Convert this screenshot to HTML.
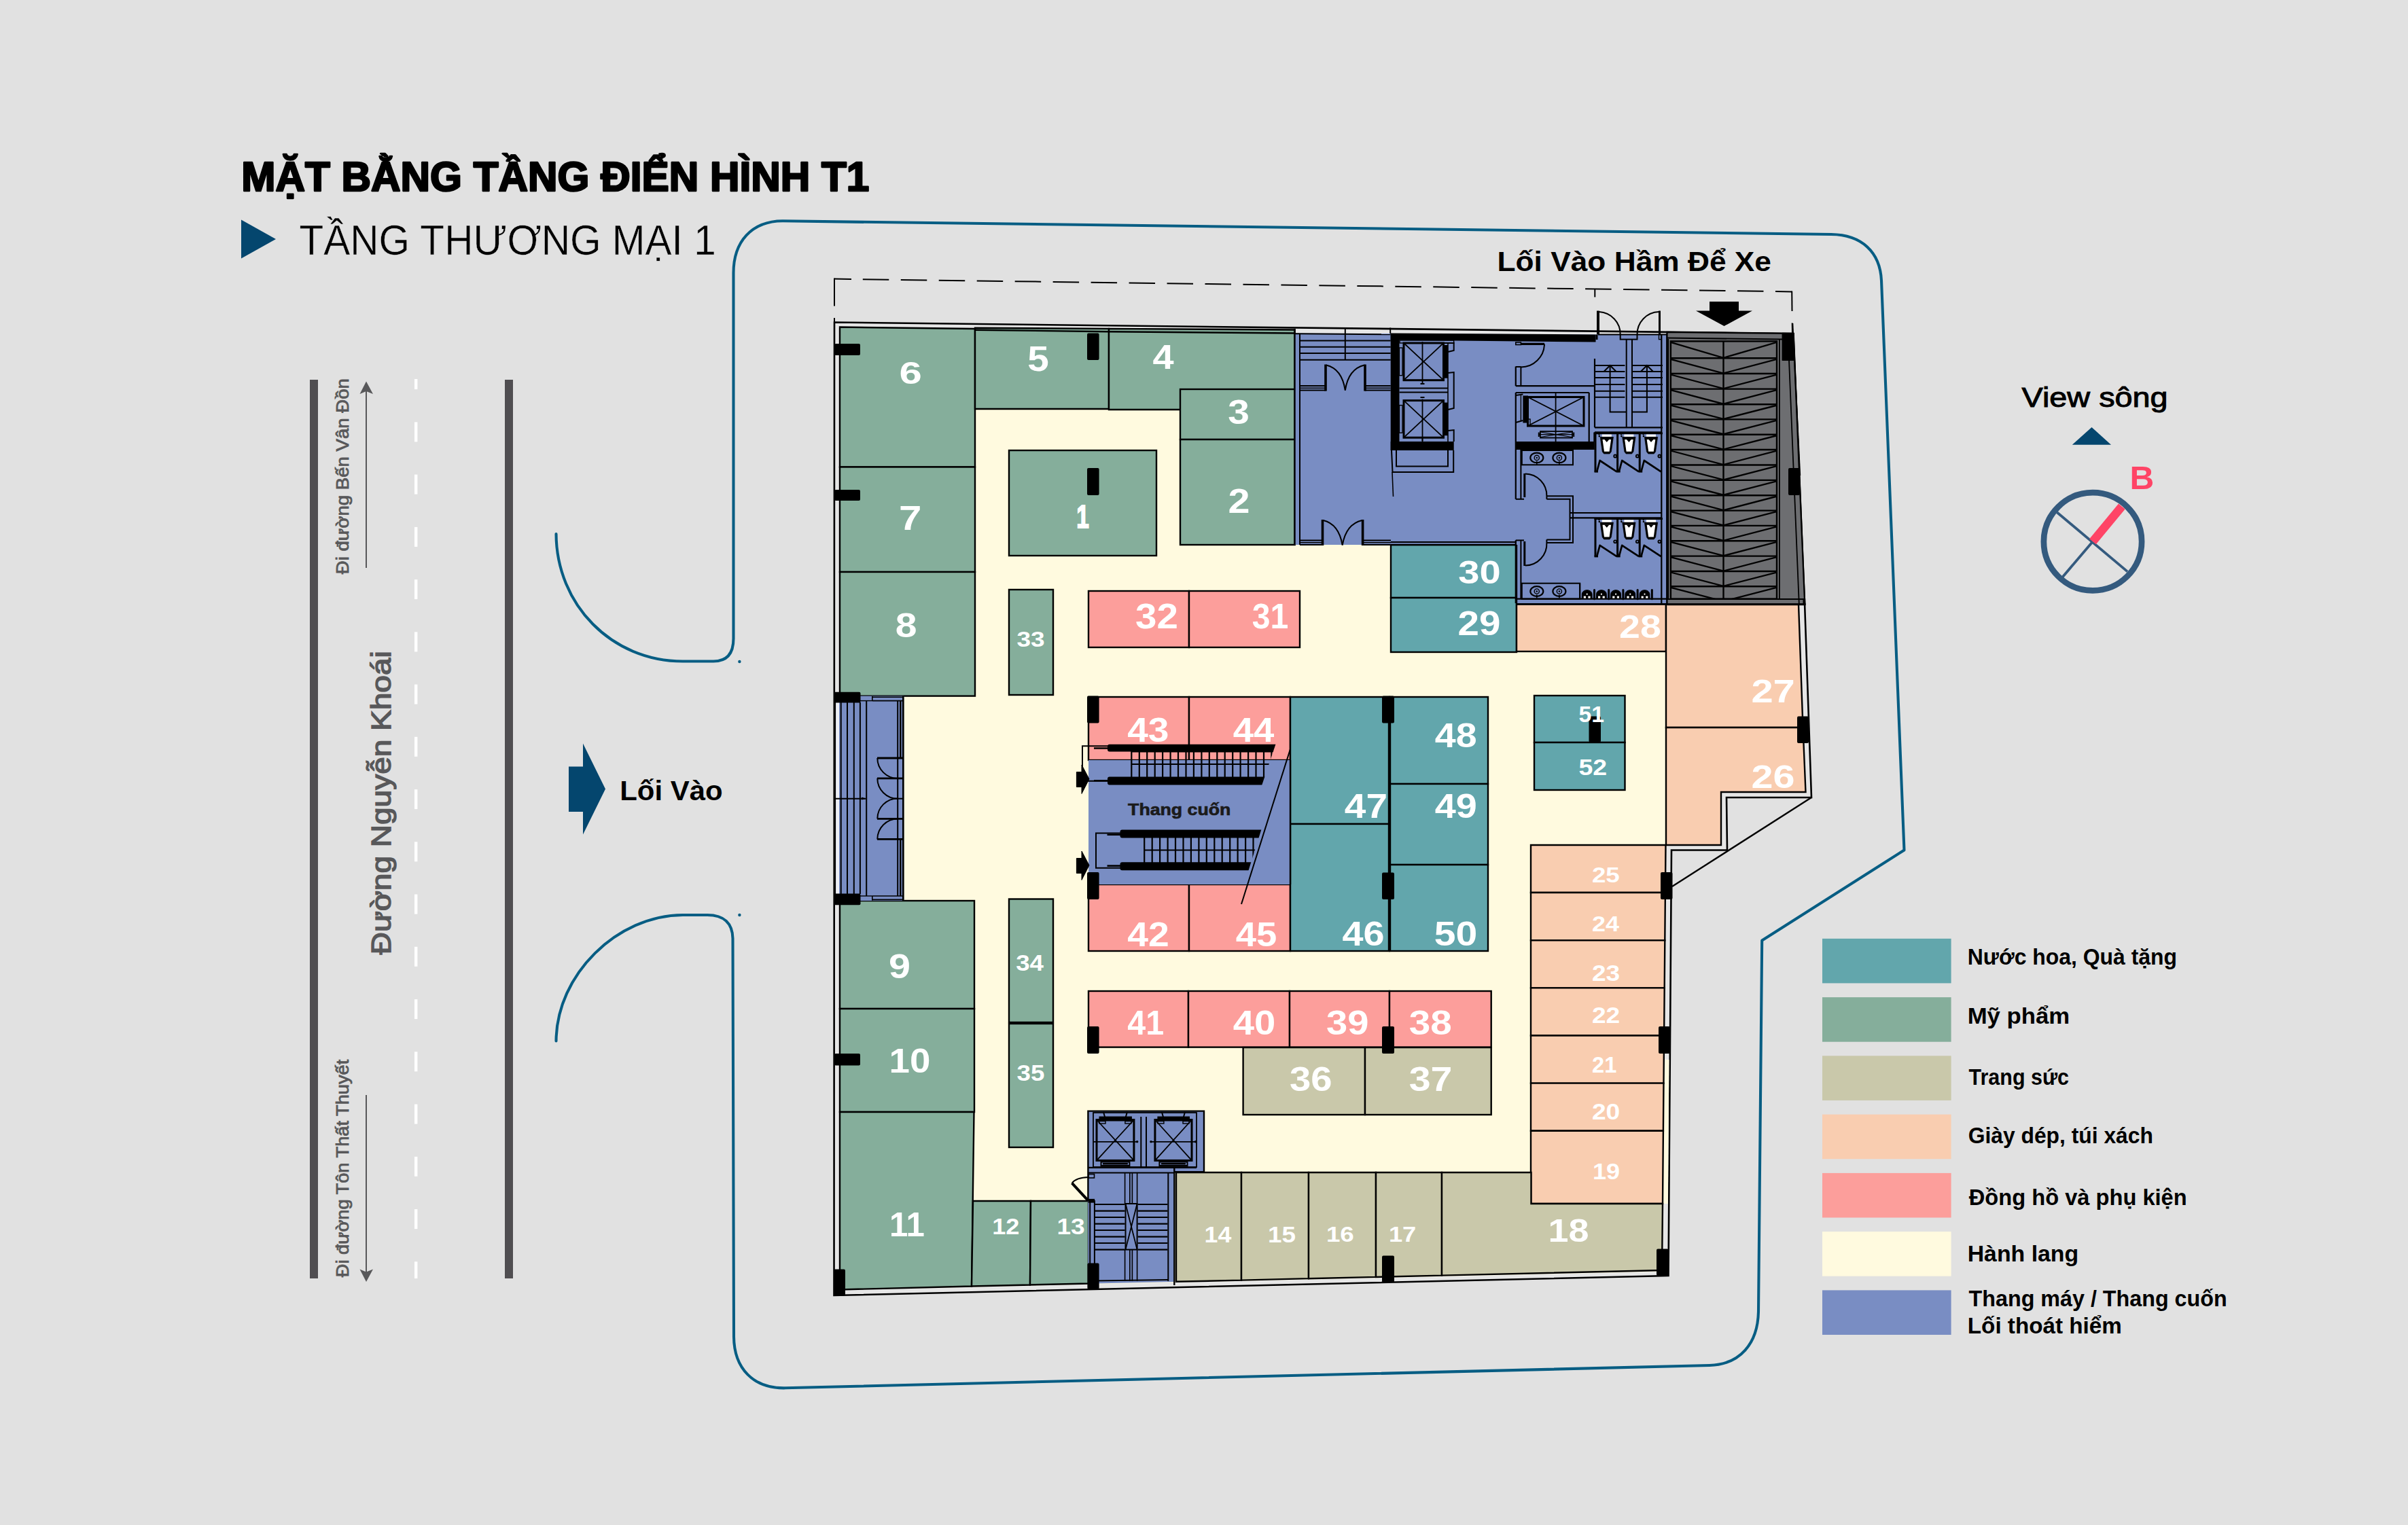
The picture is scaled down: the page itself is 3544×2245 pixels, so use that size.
<!DOCTYPE html>
<html lang="vi"><head><meta charset="utf-8"><title>Mặt bằng tầng điển hình T1</title>
<style>
html,body{margin:0;padding:0;background:#e1e1e1;}
body{width:3544px;height:2245px;overflow:hidden;}
svg{display:block;font-family:"Liberation Sans",sans-serif;}
</style></head><body>
<svg width="3544" height="2245" viewBox="0 0 3544 2245">
<rect x="0" y="0" width="3544" height="2245" fill="#e1e1e1"/>
<text x="355.2" y="281.3" font-size="60.2" font-weight="bold" fill="#000" textLength="924.2" lengthAdjust="spacingAndGlyphs" stroke="#000" stroke-width="2.6" stroke-linejoin="round">MẶT BẰNG TẦNG ĐIỂN HÌNH T1</text>
<text x="440.5" y="375.4" font-size="63.4" font-weight="normal" fill="#000" textLength="613.2" lengthAdjust="spacingAndGlyphs" stroke="#e1e1e1" stroke-width="0.5">TẦNG THƯƠNG MẠI 1</text>
<polygon points="355,323.5 406,352 355,380.5" fill="#04466e" stroke="none" stroke-width="0"/>
<rect x="456" y="559" width="12" height="1323" fill="#504e51" stroke="none" stroke-width="0"/>
<rect x="743" y="559" width="12" height="1323" fill="#504e51" stroke="none" stroke-width="0"/>
<rect x="610" y="558" width="4.4" height="15.1" fill="#fff" stroke="none" stroke-width="0"/>
<rect x="610" y="621.4" width="4.4" height="29" fill="#fff" stroke="none" stroke-width="0"/>
<rect x="610" y="698.6" width="4.4" height="29" fill="#fff" stroke="none" stroke-width="0"/>
<rect x="610" y="775.9" width="4.4" height="29" fill="#fff" stroke="none" stroke-width="0"/>
<rect x="610" y="853.1" width="4.4" height="29" fill="#fff" stroke="none" stroke-width="0"/>
<rect x="610" y="930.4" width="4.4" height="29" fill="#fff" stroke="none" stroke-width="0"/>
<rect x="610" y="1007.6" width="4.4" height="29" fill="#fff" stroke="none" stroke-width="0"/>
<rect x="610" y="1084.8" width="4.4" height="29" fill="#fff" stroke="none" stroke-width="0"/>
<rect x="610" y="1162.1" width="4.4" height="29" fill="#fff" stroke="none" stroke-width="0"/>
<rect x="610" y="1239.3" width="4.4" height="29" fill="#fff" stroke="none" stroke-width="0"/>
<rect x="610" y="1316.6" width="4.4" height="29" fill="#fff" stroke="none" stroke-width="0"/>
<rect x="610" y="1393.8" width="4.4" height="29" fill="#fff" stroke="none" stroke-width="0"/>
<rect x="610" y="1471.1" width="4.4" height="29" fill="#fff" stroke="none" stroke-width="0"/>
<rect x="610" y="1548.3" width="4.4" height="29" fill="#fff" stroke="none" stroke-width="0"/>
<rect x="610" y="1625.6" width="4.4" height="29" fill="#fff" stroke="none" stroke-width="0"/>
<rect x="610" y="1702.8" width="4.4" height="29" fill="#fff" stroke="none" stroke-width="0"/>
<rect x="610" y="1780.1" width="4.4" height="29" fill="#fff" stroke="none" stroke-width="0"/>
<rect x="610" y="1857.3" width="4.4" height="24.7" fill="#fff" stroke="none" stroke-width="0"/>
<g transform="translate(512.5,845) rotate(-90)">
<text x="-0.2" y="0" font-size="25" font-weight="normal" fill="#58585a" textLength="288" lengthAdjust="spacingAndGlyphs" stroke="#58585a" stroke-width="0.8">Đi đường Bến Vân Đồn</text>
</g>
<g transform="translate(575,1405) rotate(-90)">
<text x="-0.3" y="0" font-size="41" font-weight="normal" fill="#58585a" textLength="447" lengthAdjust="spacingAndGlyphs" stroke="#58585a" stroke-width="1.4">Đường Nguyễn Khoái</text>
</g>
<g transform="translate(512.5,1880) rotate(-90)">
<text x="-0.2" y="0" font-size="25" font-weight="normal" fill="#58585a" textLength="320.4" lengthAdjust="spacingAndGlyphs" stroke="#58585a" stroke-width="0.8">Đi đường Tôn Thất Thuyết</text>
</g>
<line x1="539" y1="836" x2="539" y2="575" stroke="#58585a" stroke-width="2"/>
<polygon points="539,561.5 549,580 539,576 529.5,580" fill="#58585a" stroke="none" stroke-width="0"/>
<line x1="539" y1="1612" x2="539" y2="1873" stroke="#58585a" stroke-width="2"/>
<polygon points="539,1887 549,1868.5 539,1872.5 529.5,1868.5" fill="#58585a" stroke="none" stroke-width="0"/>
<path d="M818.5,786 C819,890 900,973.5 1005,973.5 L1050,973.5 C1070,973.5 1079.5,962 1079.5,940 L1079.5,402 C1079.5,356 1106,325.5 1152,325.3 L2695,345 C2740,345.5 2767,371 2769,413 L2802.5,1251.5 L2593.2,1384.5 L2588,1931 C2587,1978 2561,2008.5 2516,2010 L1156,2043.3 C1109,2044.3 1080.5,2015 1080,1968 L1078.5,1381.5 C1078,1359.5 1066,1347 1041,1347 L1005,1347 C908,1347.5 819,1435 818.5,1532.5" fill="none" stroke="#075d83" stroke-width="4.1" stroke-linecap="round" stroke-linejoin="round"/>
<circle cx="1088.4" cy="974" r="2.2" fill="#075d83"/>
<circle cx="1088.4" cy="1347" r="2.2" fill="#075d83"/>
<polygon points="837,1128.5 858,1128.5 858,1094.5 891,1161.5 858,1228.5 858,1195 837,1195" fill="#04466e" stroke="none" stroke-width="0"/>
<text x="912.2" y="1177.5" font-size="41" font-weight="bold" fill="#000" textLength="151.5" lengthAdjust="spacingAndGlyphs">Lối Vào</text>
<text x="2203.5" y="398.8" font-size="41" font-weight="bold" fill="#000" textLength="403.5" lengthAdjust="spacingAndGlyphs">Lối Vào Hầm Để Xe</text>
<polygon points="2516,444 2559,444 2559,457.5 2579,457.5 2537.5,480 2496,457.5 2516,457.5" fill="#000" stroke="none" stroke-width="0"/>
<line x1="1228" y1="410.6" x2="1253" y2="410.9" stroke="#000" stroke-width="2"/>
<line x1="1269.8" y1="411.2" x2="2637.2" y2="429.4" stroke="#000" stroke-width="2" stroke-dasharray="38.5 17.47"/>
<line x1="1228" y1="409.6" x2="1228" y2="450.4" stroke="#000" stroke-width="2"/>
<line x1="1228" y1="468" x2="1228" y2="476" stroke="#000" stroke-width="2"/>
<line x1="2637.2" y1="428.4" x2="2637.5" y2="458" stroke="#000" stroke-width="2"/>
<line x1="2637.7" y1="475.6" x2="2638" y2="490.5" stroke="#000" stroke-width="2"/>
<line x1="2347.3" y1="425.7" x2="2347.3" y2="437.4" stroke="#000" stroke-width="2"/>
<polygon points="1228,474.5 2639.5,491 2656,887 2666,1174 2541,1174 2542,1251.5 2460,1251.5 2455.5,1878 1227.5,1907" fill="#e6e6e6" stroke="#000" stroke-width="2.6"/>
<polygon points="1236,600 2453,600 2453,1250 2452,1250 2447,1872 1236,1899" fill="#fffadf" stroke="none" stroke-width="0"/>
<polygon points="2449,1560 2456.4,1560 2454.8,1772 2446,1772" fill="#fffadf" stroke="none" stroke-width="0"/>
<polygon points="1236,481.5 1435,484 1435,687.5 1236,687.5" fill="#85ae9b" stroke="#000" stroke-width="2.4"/>
<rect x="1236" y="687.5" width="199" height="154.5" fill="#85ae9b" stroke="#000" stroke-width="2.4"/>
<rect x="1236" y="842" width="199" height="182.6" fill="#85ae9b" stroke="#000" stroke-width="2.4"/>
<polygon points="1435,482.7 1632,483.9 1632,602 1435,602" fill="#85ae9b" stroke="#000" stroke-width="2.4"/>
<polygon points="1632,483.9 1905.5,485.5 1905.5,603 1632,603" fill="#85ae9b" stroke="#000" stroke-width="2.4"/>
<line x1="1435" y1="485.8" x2="1632" y2="488.2" stroke="#000" stroke-width="2.4"/>
<line x1="1632" y1="488.2" x2="1905.5" y2="490.5" stroke="#000" stroke-width="2.4"/>
<rect x="1737" y="573" width="168.5" height="74" fill="#85ae9b" stroke="#000" stroke-width="2.4"/>
<rect x="1737" y="647" width="168.5" height="155" fill="#85ae9b" stroke="#000" stroke-width="2.4"/>
<rect x="1485" y="663" width="217" height="155" fill="#85ae9b" stroke="#000" stroke-width="2.4"/>
<rect x="1485" y="868" width="65" height="155" fill="#85ae9b" stroke="#000" stroke-width="2.4"/>
<rect x="1236" y="1326" width="198" height="159" fill="#85ae9b" stroke="#000" stroke-width="2.4"/>
<rect x="1236" y="1485" width="198" height="152" fill="#85ae9b" stroke="#000" stroke-width="2.4"/>
<polygon points="1236,1637 1433.5,1637 1430,1893.5 1236,1898.5" fill="#85ae9b" stroke="#000" stroke-width="2.4"/>
<polygon points="1432,1768 1517,1768 1516,1891.5 1430,1893.5" fill="#85ae9b" stroke="#000" stroke-width="2.4"/>
<polygon points="1517,1768 1602,1768 1602,1889.5 1516,1891.5" fill="#85ae9b" stroke="#000" stroke-width="2.4"/>
<rect x="1485" y="1323.5" width="65" height="181.5" fill="#85ae9b" stroke="#000" stroke-width="2.4"/>
<rect x="1485" y="1507" width="65" height="182" fill="#85ae9b" stroke="#000" stroke-width="2.4"/>
<rect x="1602" y="870" width="148" height="83" fill="#fc9e9b" stroke="#000" stroke-width="2.4"/>
<rect x="1750" y="870" width="163" height="83" fill="#fc9e9b" stroke="#000" stroke-width="2.4"/>
<rect x="1602" y="1026" width="148" height="93" fill="#fc9e9b" stroke="#000" stroke-width="2.4"/>
<rect x="1750" y="1026" width="149" height="93" fill="#fc9e9b" stroke="#000" stroke-width="2.4"/>
<rect x="1602" y="1302" width="148" height="98" fill="#fc9e9b" stroke="#000" stroke-width="2.4"/>
<rect x="1750" y="1302" width="149" height="98" fill="#fc9e9b" stroke="#000" stroke-width="2.4"/>
<rect x="1602" y="1459" width="147" height="82.6" fill="#fc9e9b" stroke="#000" stroke-width="2.4"/>
<rect x="1749" y="1459" width="149" height="82.6" fill="#fc9e9b" stroke="#000" stroke-width="2.4"/>
<rect x="1898" y="1459" width="147" height="82.6" fill="#fc9e9b" stroke="#000" stroke-width="2.4"/>
<rect x="2045" y="1459" width="149.7" height="82.6" fill="#fc9e9b" stroke="#000" stroke-width="2.4"/>
<rect x="2047" y="802" width="185" height="78" fill="#62a6ac" stroke="#000" stroke-width="2.4"/>
<rect x="2047" y="880" width="185" height="80" fill="#62a6ac" stroke="#000" stroke-width="2.4"/>
<rect x="1899" y="1026" width="146" height="187" fill="#62a6ac" stroke="#000" stroke-width="2.4"/>
<rect x="1899" y="1213" width="146" height="187" fill="#62a6ac" stroke="#000" stroke-width="2.4"/>
<rect x="2045" y="1026" width="145" height="128" fill="#62a6ac" stroke="#000" stroke-width="2.4"/>
<rect x="2045" y="1154" width="145" height="119" fill="#62a6ac" stroke="#000" stroke-width="2.4"/>
<rect x="2045" y="1273" width="145" height="127" fill="#62a6ac" stroke="#000" stroke-width="2.4"/>
<line x1="2045" y1="1026" x2="2045" y2="1400" stroke="#000" stroke-width="4.4"/>
<rect x="2258" y="1024" width="133.5" height="69" fill="#62a6ac" stroke="#000" stroke-width="2.4"/>
<rect x="2258" y="1093" width="133.5" height="70" fill="#62a6ac" stroke="#000" stroke-width="2.4"/>
<rect x="2232" y="889.4" width="220" height="69.6" fill="#f9cdb0" stroke="#000" stroke-width="2.4"/>
<polygon points="2452,889.4 2647,889.4 2653.5,1071 2452,1071" fill="#f9cdb0" stroke="#000" stroke-width="2.4"/>
<polygon points="2452,1071 2653.5,1071 2657.5,1166 2533,1166 2533,1244 2452,1244" fill="#f9cdb0" stroke="#000" stroke-width="2.4"/>
<polygon points="2253,1244 2451.5,1244 2450.9,1314 2253,1314" fill="#f9cdb0" stroke="#000" stroke-width="2.4"/>
<polygon points="2253,1314 2450.9,1314 2450.3,1384.4 2253,1384.4" fill="#f9cdb0" stroke="#000" stroke-width="2.4"/>
<polygon points="2253,1384.4 2450.3,1384.4 2449.7,1454.4 2253,1454.4" fill="#f9cdb0" stroke="#000" stroke-width="2.4"/>
<polygon points="2253,1454.4 2449.7,1454.4 2449.1,1524.5 2253,1524.5" fill="#f9cdb0" stroke="#000" stroke-width="2.4"/>
<polygon points="2253,1524.5 2449.1,1524.5 2448.5,1594.6 2253,1594.6" fill="#f9cdb0" stroke="#000" stroke-width="2.4"/>
<polygon points="2253,1594.6 2448.5,1594.6 2447.9,1664.7 2253,1664.7" fill="#f9cdb0" stroke="#000" stroke-width="2.4"/>
<polygon points="2253,1664.7 2447.9,1664.7 2447,1772 2253,1772" fill="#f9cdb0" stroke="#000" stroke-width="2.4"/>
<rect x="1829.6" y="1542" width="179.4" height="99" fill="#c9c8aa" stroke="#000" stroke-width="2.4"/>
<rect x="2009" y="1542" width="185.7" height="99" fill="#c9c8aa" stroke="#000" stroke-width="2.4"/>
<polygon points="1731,1726 1827,1726 1827,1884.6 1731,1886.8" fill="#c9c8aa" stroke="#000" stroke-width="2.4"/>
<polygon points="1827,1726 1926,1726 1926,1882.2 1827,1884.6" fill="#c9c8aa" stroke="#000" stroke-width="2.4"/>
<polygon points="1926,1726 2025,1726 2025,1879.9 1926,1882.2" fill="#c9c8aa" stroke="#000" stroke-width="2.4"/>
<polygon points="2025,1726 2122,1726 2122,1877.6 2025,1879.9" fill="#c9c8aa" stroke="#000" stroke-width="2.4"/>
<polygon points="2122,1726 2253.5,1726 2253.5,1772 2447,1772 2446,1870 2122,1877.6" fill="#c9c8aa" stroke="#000" stroke-width="2.4"/>
<line x1="2666" y1="1174" x2="2461" y2="1305" stroke="#000" stroke-width="2.4"/>
<polygon points="1905.5,490.5 2046.7,491 2348.5,492.5 2453.5,492.5 2453.5,889.4 2232,889.4 2232,802 1905.5,802" fill="#798dc3" stroke="none" stroke-width="0"/>
<line x1="1905.5" y1="484" x2="1905.5" y2="803" stroke="#000" stroke-width="2.4"/>
<line x1="1913" y1="491" x2="1913" y2="802" stroke="#000" stroke-width="2"/>
<line x1="1906" y1="491.3" x2="2046.7" y2="492.3" stroke="#000" stroke-width="2"/>
<line x1="1913" y1="501.4" x2="2046.7" y2="501.4" stroke="#000" stroke-width="2"/>
<line x1="1913" y1="510.7" x2="2046.7" y2="510.7" stroke="#000" stroke-width="2"/>
<line x1="1913" y1="520" x2="2046.7" y2="520" stroke="#000" stroke-width="2"/>
<line x1="1913" y1="529.8" x2="2046.7" y2="529.8" stroke="#000" stroke-width="2"/>
<line x1="1979.8" y1="484" x2="1979.8" y2="529" stroke="#000" stroke-width="2"/>
<line x1="2046.2" y1="482.5" x2="2046.2" y2="491" stroke="#000" stroke-width="2"/>
<line x1="1913" y1="568" x2="1951" y2="568" stroke="#000" stroke-width="2"/>
<line x1="1913" y1="571.3" x2="1951" y2="571.3" stroke="#000" stroke-width="1.4"/>
<line x1="1913" y1="574.6" x2="1951" y2="574.6" stroke="#000" stroke-width="2"/>
<line x1="2009" y1="568" x2="2046.7" y2="568" stroke="#000" stroke-width="2"/>
<line x1="2009" y1="571.3" x2="2046.7" y2="571.3" stroke="#000" stroke-width="1.4"/>
<line x1="2009" y1="574.6" x2="2046.7" y2="574.6" stroke="#000" stroke-width="2"/>
<line x1="1951" y1="536.5" x2="1951" y2="575.6" stroke="#000" stroke-width="3.6"/>
<line x1="2009" y1="536.5" x2="2009" y2="575.6" stroke="#000" stroke-width="3.6"/>
<path d="M1952,537.5 Q1975,543 1979.8,574.6" fill="none" stroke="#000" stroke-width="2"/>
<path d="M2008,537.5 Q1984.6,543 1979.8,574.6" fill="none" stroke="#000" stroke-width="2"/>
<line x1="1913" y1="795.5" x2="1946.5" y2="795.5" stroke="#000" stroke-width="2"/>
<line x1="1913" y1="798.7" x2="1946.5" y2="798.7" stroke="#000" stroke-width="1.4"/>
<line x1="1913" y1="802" x2="1946.5" y2="802" stroke="#000" stroke-width="2"/>
<line x1="2005.6" y1="795.5" x2="2047" y2="795.5" stroke="#000" stroke-width="2"/>
<line x1="2005.6" y1="798.7" x2="2047" y2="798.7" stroke="#000" stroke-width="1.4"/>
<line x1="2005.6" y1="802" x2="2047" y2="802" stroke="#000" stroke-width="2"/>
<line x1="1946.5" y1="765" x2="1946.5" y2="803" stroke="#000" stroke-width="3.6"/>
<line x1="2005.6" y1="765" x2="2005.6" y2="803" stroke="#000" stroke-width="3.6"/>
<path d="M1947.5,766 Q1970.5,771.5 1975.7,802.5" fill="none" stroke="#000" stroke-width="2"/>
<path d="M2004.6,766 Q1981,771.5 1975.7,802.5" fill="none" stroke="#000" stroke-width="2"/>
<line x1="2047" y1="798" x2="2232" y2="798" stroke="#000" stroke-width="2"/>
<line x1="2047" y1="802" x2="2232" y2="802" stroke="#000" stroke-width="2.4"/>
<polygon points="2046.7,490.5 2348.5,492.5 2348.5,503.5 2046.7,500.6" fill="#000" stroke="none" stroke-width="0"/>
<rect x="2046.7" y="491" width="12.8" height="172" fill="#000" stroke="none" stroke-width="0"/>
<rect x="2046.7" y="650" width="93" height="13" fill="#000" stroke="none" stroke-width="0"/>
<rect x="2230.6" y="650" width="116.2" height="12" fill="#000" stroke="none" stroke-width="0"/>
<rect x="2348.5" y="492.5" width="3" height="7.5" fill="#000" stroke="none" stroke-width="0"/>
<rect x="2066" y="505" width="58.5" height="54.7" fill="none" stroke="#000" stroke-width="3"/>
<line x1="2066" y1="505" x2="2124.5" y2="559.7" stroke="#000" stroke-width="1.8"/>
<line x1="2066" y1="559.7" x2="2124.5" y2="505" stroke="#000" stroke-width="1.8"/>
<line x1="2093.5" y1="503" x2="2093.5" y2="564.7" stroke="#000" stroke-width="1.8"/>
<rect x="2124" y="508" width="7" height="48.7" fill="#000" stroke="none" stroke-width="0"/>
<rect x="2059.5" y="512" width="4.5" height="40.7" fill="none" stroke="#000" stroke-width="1.4"/>
<rect x="2066" y="589.6" width="58.5" height="54.6" fill="none" stroke="#000" stroke-width="3"/>
<line x1="2066" y1="589.6" x2="2124.5" y2="644.2" stroke="#000" stroke-width="1.8"/>
<line x1="2066" y1="644.2" x2="2124.5" y2="589.6" stroke="#000" stroke-width="1.8"/>
<line x1="2093.5" y1="587.6" x2="2093.5" y2="649.2" stroke="#000" stroke-width="1.8"/>
<rect x="2124" y="592.6" width="7" height="48.6" fill="#000" stroke="none" stroke-width="0"/>
<rect x="2059.5" y="596.6" width="4.5" height="40.6" fill="none" stroke="#000" stroke-width="1.4"/>
<line x1="2090.5" y1="565" x2="2096.5" y2="565" stroke="#000" stroke-width="2"/>
<line x1="2090.5" y1="585" x2="2096.5" y2="585" stroke="#000" stroke-width="2"/>
<line x1="2093.5" y1="644" x2="2093.5" y2="650" stroke="#000" stroke-width="1.8"/>
<line x1="2059.5" y1="571.5" x2="2131" y2="571.5" stroke="#000" stroke-width="2"/>
<line x1="2059.5" y1="577.5" x2="2131" y2="577.5" stroke="#000" stroke-width="2"/>
<rect x="2060" y="501" width="79.7" height="4" fill="none" stroke="#000" stroke-width="1.4"/>
<polyline points="2125,505 2139.7,505 2139.7,516 2131,518" fill="none" stroke="#000" stroke-width="2"/>
<polyline points="2131,549 2139.7,548 2139.7,601 2131,603" fill="none" stroke="#000" stroke-width="2"/>
<line x1="2131" y1="505" x2="2131" y2="650" stroke="#000" stroke-width="1.6"/>
<polyline points="2131,634 2139.7,633 2139.7,650" fill="none" stroke="#000" stroke-width="2"/>
<polyline points="2048,663 2049.5,695 2139.2,695 2139.2,663" fill="none" stroke="#000" stroke-width="2"/>
<polyline points="2055,663 2055,686.5 2131,686.5 2131,663" fill="none" stroke="#000" stroke-width="2"/>
<line x1="2049" y1="695" x2="2050.5" y2="731" stroke="#000" stroke-width="1.6"/>
<line x1="2230.8" y1="539.5" x2="2230.8" y2="568.2" stroke="#000" stroke-width="2.2"/>
<line x1="2230.8" y1="578" x2="2230.8" y2="734.8" stroke="#000" stroke-width="2.2"/>
<line x1="2230.8" y1="795.4" x2="2230.8" y2="888" stroke="#000" stroke-width="2.2"/>
<line x1="2238.4" y1="539.5" x2="2238.4" y2="568.2" stroke="#000" stroke-width="2"/>
<rect x="2230.8" y="504" width="7.6" height="3.5" fill="none" stroke="#000" stroke-width="1.6"/>
<line x1="2238.4" y1="506.4" x2="2273" y2="506.4" stroke="#000" stroke-width="3.2"/>
<path d="M2273,506.4 A34.7,34.7 0 0 1 2238.4,540.5" fill="none" stroke="#000" stroke-width="2"/>
<line x1="2230.8" y1="540" x2="2238.4" y2="540" stroke="#000" stroke-width="2"/>
<line x1="2230.8" y1="568.2" x2="2347" y2="568.2" stroke="#000" stroke-width="2.2"/>
<line x1="2230.8" y1="578" x2="2338.7" y2="578" stroke="#000" stroke-width="2.2"/>
<line x1="2338.7" y1="578" x2="2338.7" y2="650" stroke="#000" stroke-width="2.2"/>
<line x1="2289.6" y1="578" x2="2289.6" y2="650" stroke="#000" stroke-width="1.8"/>
<rect x="2248.5" y="584.5" width="82.5" height="42.5" fill="none" stroke="#000" stroke-width="3"/>
<line x1="2248.5" y1="584.5" x2="2331" y2="627" stroke="#000" stroke-width="1.8"/>
<line x1="2248.5" y1="627" x2="2331" y2="584.5" stroke="#000" stroke-width="1.8"/>
<rect x="2241.4" y="582.5" width="7.6" height="40" fill="#000" stroke="none" stroke-width="0"/>
<polyline points="2230.8,582 2241.4,580.5" fill="none" stroke="#000" stroke-width="2"/>
<polyline points="2230.8,622 2241.4,619" fill="none" stroke="#000" stroke-width="2"/>
<polyline points="2238.4,582 2238.4,620" fill="none" stroke="#000" stroke-width="1.4"/>
<rect x="2248.5" y="617" width="3.5" height="10" fill="none" stroke="#000" stroke-width="1.4"/>
<rect x="2267" y="635" width="47" height="9.5" fill="none" stroke="#000" stroke-width="1.8"/>
<line x1="2267" y1="636" x2="2314" y2="643.5" stroke="#000" stroke-width="1.2"/>
<line x1="2267" y1="643.5" x2="2314" y2="636" stroke="#000" stroke-width="1.2"/>
<line x1="2264.5" y1="639.7" x2="2316.5" y2="639.7" stroke="#000" stroke-width="1.2"/>
<line x1="2264.8" y1="636.5" x2="2264.8" y2="643" stroke="#000" stroke-width="2"/>
<line x1="2316.2" y1="636.5" x2="2316.2" y2="643" stroke="#000" stroke-width="2"/>
<line x1="2352" y1="457.5" x2="2352" y2="492.5" stroke="#000" stroke-width="4"/>
<path d="M2353.5,459 A33,33 0 0 1 2384.7,492.5" fill="none" stroke="#000" stroke-width="2"/>
<line x1="2442.5" y1="457.5" x2="2442.5" y2="492.5" stroke="#000" stroke-width="3"/>
<path d="M2441.5,459 A33,33 0 0 0 2409.5,492.5" fill="none" stroke="#000" stroke-width="2"/>
<rect x="2384.7" y="492.5" width="24.8" height="7.1" fill="none" stroke="#000" stroke-width="2"/>
<line x1="2352" y1="492.5" x2="2384.7" y2="492.5" stroke="#000" stroke-width="2"/>
<line x1="2409.5" y1="492.5" x2="2453.5" y2="492.5" stroke="#000" stroke-width="2"/>
<rect x="2441.5" y="492.5" width="3.5" height="7.1" fill="none" stroke="#000" stroke-width="1.4"/>
<line x1="2393.7" y1="499.6" x2="2393.7" y2="629.3" stroke="#000" stroke-width="2"/>
<line x1="2402" y1="499.6" x2="2402" y2="629.3" stroke="#000" stroke-width="2"/>
<line x1="2445.3" y1="492.5" x2="2445.3" y2="888" stroke="#000" stroke-width="2.2"/>
<line x1="2453.5" y1="491" x2="2453.5" y2="888" stroke="#000" stroke-width="2.4"/>
<line x1="2347" y1="528" x2="2347" y2="629.3" stroke="#000" stroke-width="2.2"/>
<line x1="2347" y1="538" x2="2391.4" y2="538" stroke="#000" stroke-width="2"/>
<line x1="2402" y1="538" x2="2447" y2="538" stroke="#000" stroke-width="2"/>
<line x1="2347" y1="547" x2="2391.4" y2="547" stroke="#000" stroke-width="2"/>
<line x1="2402" y1="547" x2="2447" y2="547" stroke="#000" stroke-width="2"/>
<line x1="2347" y1="556" x2="2391.4" y2="556" stroke="#000" stroke-width="2"/>
<line x1="2402" y1="556" x2="2447" y2="556" stroke="#000" stroke-width="2"/>
<line x1="2347" y1="566" x2="2391.4" y2="566" stroke="#000" stroke-width="2"/>
<line x1="2402" y1="566" x2="2447" y2="566" stroke="#000" stroke-width="2"/>
<line x1="2347" y1="575.7" x2="2391.4" y2="575.7" stroke="#000" stroke-width="2"/>
<line x1="2402" y1="575.7" x2="2447" y2="575.7" stroke="#000" stroke-width="2"/>
<line x1="2347" y1="584.8" x2="2391.4" y2="584.8" stroke="#000" stroke-width="2"/>
<line x1="2402" y1="584.8" x2="2447" y2="584.8" stroke="#000" stroke-width="2"/>
<polyline points="2369.6,539 2369.6,606.6 2393.7,606.6" fill="none" stroke="#000" stroke-width="2"/>
<polyline points="2360.5,547 2369.6,538 2378.6,547" fill="none" stroke="#000" stroke-width="2"/>
<polyline points="2402,606.6 2423.9,606.6 2423.9,539" fill="none" stroke="#000" stroke-width="2"/>
<polyline points="2414.8,547 2423.9,538 2433,547" fill="none" stroke="#000" stroke-width="2"/>
<line x1="2347" y1="629.3" x2="2447" y2="629.3" stroke="#000" stroke-width="2.2"/>
<line x1="2347" y1="636.3" x2="2445.3" y2="636.3" stroke="#000" stroke-width="2"/>
<line x1="2346.5" y1="637.8" x2="2447" y2="637.8" stroke="#000" stroke-width="2.8"/>
<line x1="2348" y1="636.5" x2="2348" y2="694.4" stroke="#000" stroke-width="3"/>
<line x1="2346.5" y1="694.2" x2="2352" y2="694.2" stroke="#000" stroke-width="2.8"/>
<polyline points="2350.2,694.4 2354.6,678 2379.4,694.4" fill="none" stroke="#000" stroke-width="2.7" stroke-linejoin="round"/>
<rect x="2357.8" y="639.6" width="14" height="3.5" fill="#fff" stroke="none" stroke-width="0"/>
<polygon points="2355.1,643.3 2374.5,643.3 2371.4,665 2369,668.1 2360.6,668.1 2358.2,665" fill="#000" stroke="#000" stroke-width="0.6" stroke-linejoin="round"/>
<polygon points="2358.5,646.9 2371.1,646.9 2368.6,664.7 2361,664.7" fill="#fff" stroke="none" stroke-width="0"/>
<polygon points="2361.2,646.7 2368.4,646.7 2364.8,650.9" fill="#000" stroke="none" stroke-width="0"/>
<circle cx="2377.2" cy="671.5" r="2" fill="none" stroke="#000" stroke-width="1.8"/>
<circle cx="2353.5" cy="638.9" r="1.3" fill="#000"/>
<circle cx="2353.8" cy="642.1" r="1.3" fill="#000"/>
<line x1="2380.6" y1="636.5" x2="2380.6" y2="694.4" stroke="#000" stroke-width="3"/>
<line x1="2379.1" y1="694.2" x2="2384.6" y2="694.2" stroke="#000" stroke-width="2.8"/>
<polyline points="2382.8,694.4 2387.2,678 2412,694.4" fill="none" stroke="#000" stroke-width="2.7" stroke-linejoin="round"/>
<rect x="2390.4" y="639.6" width="14" height="3.5" fill="#fff" stroke="none" stroke-width="0"/>
<polygon points="2387.7,643.3 2407.1,643.3 2404,665 2401.6,668.1 2393.2,668.1 2390.8,665" fill="#000" stroke="#000" stroke-width="0.6" stroke-linejoin="round"/>
<polygon points="2391.1,646.9 2403.7,646.9 2401.2,664.7 2393.6,664.7" fill="#fff" stroke="none" stroke-width="0"/>
<polygon points="2393.8,646.7 2401,646.7 2397.4,650.9" fill="#000" stroke="none" stroke-width="0"/>
<circle cx="2409.8" cy="671.5" r="2" fill="none" stroke="#000" stroke-width="1.8"/>
<circle cx="2386.1" cy="638.9" r="1.3" fill="#000"/>
<circle cx="2386.4" cy="642.1" r="1.3" fill="#000"/>
<line x1="2413.2" y1="636.5" x2="2413.2" y2="694.4" stroke="#000" stroke-width="3"/>
<line x1="2411.7" y1="694.2" x2="2417.2" y2="694.2" stroke="#000" stroke-width="2.8"/>
<polyline points="2415.4,694.4 2419.8,678 2444.6,694.4" fill="none" stroke="#000" stroke-width="2.7" stroke-linejoin="round"/>
<rect x="2423" y="639.6" width="14" height="3.5" fill="#fff" stroke="none" stroke-width="0"/>
<polygon points="2420.3,643.3 2439.7,643.3 2436.6,665 2434.2,668.1 2425.8,668.1 2423.4,665" fill="#000" stroke="#000" stroke-width="0.6" stroke-linejoin="round"/>
<polygon points="2423.7,646.9 2436.3,646.9 2433.8,664.7 2426.2,664.7" fill="#fff" stroke="none" stroke-width="0"/>
<polygon points="2426.4,646.7 2433.6,646.7 2430,650.9" fill="#000" stroke="none" stroke-width="0"/>
<circle cx="2442.4" cy="671.5" r="2" fill="none" stroke="#000" stroke-width="1.8"/>
<circle cx="2418.7" cy="638.9" r="1.3" fill="#000"/>
<circle cx="2419" cy="642.1" r="1.3" fill="#000"/>
<line x1="2346.5" y1="763.6" x2="2447" y2="763.6" stroke="#000" stroke-width="2.8"/>
<line x1="2348" y1="762.3" x2="2348" y2="819.2" stroke="#000" stroke-width="3"/>
<line x1="2346.5" y1="819" x2="2352" y2="819" stroke="#000" stroke-width="2.8"/>
<polyline points="2350.2,819.2 2354.6,802.8 2379.4,819.2" fill="none" stroke="#000" stroke-width="2.7" stroke-linejoin="round"/>
<rect x="2357.8" y="765.4" width="14" height="3.5" fill="#fff" stroke="none" stroke-width="0"/>
<polygon points="2355.1,769.1 2374.5,769.1 2371.4,790.8 2369,793.9 2360.6,793.9 2358.2,790.8" fill="#000" stroke="#000" stroke-width="0.6" stroke-linejoin="round"/>
<polygon points="2358.5,772.7 2371.1,772.7 2368.6,790.5 2361,790.5" fill="#fff" stroke="none" stroke-width="0"/>
<polygon points="2361.2,772.5 2368.4,772.5 2364.8,776.7" fill="#000" stroke="none" stroke-width="0"/>
<circle cx="2377.2" cy="797.3" r="2" fill="none" stroke="#000" stroke-width="1.8"/>
<circle cx="2353.5" cy="764.7" r="1.3" fill="#000"/>
<circle cx="2353.8" cy="767.9" r="1.3" fill="#000"/>
<line x1="2380.6" y1="762.3" x2="2380.6" y2="819.2" stroke="#000" stroke-width="3"/>
<line x1="2379.1" y1="819" x2="2384.6" y2="819" stroke="#000" stroke-width="2.8"/>
<polyline points="2382.8,819.2 2387.2,802.8 2412,819.2" fill="none" stroke="#000" stroke-width="2.7" stroke-linejoin="round"/>
<rect x="2390.4" y="765.4" width="14" height="3.5" fill="#fff" stroke="none" stroke-width="0"/>
<polygon points="2387.7,769.1 2407.1,769.1 2404,790.8 2401.6,793.9 2393.2,793.9 2390.8,790.8" fill="#000" stroke="#000" stroke-width="0.6" stroke-linejoin="round"/>
<polygon points="2391.1,772.7 2403.7,772.7 2401.2,790.5 2393.6,790.5" fill="#fff" stroke="none" stroke-width="0"/>
<polygon points="2393.8,772.5 2401,772.5 2397.4,776.7" fill="#000" stroke="none" stroke-width="0"/>
<circle cx="2409.8" cy="797.3" r="2" fill="none" stroke="#000" stroke-width="1.8"/>
<circle cx="2386.1" cy="764.7" r="1.3" fill="#000"/>
<circle cx="2386.4" cy="767.9" r="1.3" fill="#000"/>
<line x1="2413.2" y1="762.3" x2="2413.2" y2="819.2" stroke="#000" stroke-width="3"/>
<line x1="2411.7" y1="819" x2="2417.2" y2="819" stroke="#000" stroke-width="2.8"/>
<polyline points="2415.4,819.2 2419.8,802.8 2444.6,819.2" fill="none" stroke="#000" stroke-width="2.7" stroke-linejoin="round"/>
<rect x="2423" y="765.4" width="14" height="3.5" fill="#fff" stroke="none" stroke-width="0"/>
<polygon points="2420.3,769.1 2439.7,769.1 2436.6,790.8 2434.2,793.9 2425.8,793.9 2423.4,790.8" fill="#000" stroke="#000" stroke-width="0.6" stroke-linejoin="round"/>
<polygon points="2423.7,772.7 2436.3,772.7 2433.8,790.5 2426.2,790.5" fill="#fff" stroke="none" stroke-width="0"/>
<polygon points="2426.4,772.5 2433.6,772.5 2430,776.7" fill="#000" stroke="none" stroke-width="0"/>
<circle cx="2442.4" cy="797.3" r="2" fill="none" stroke="#000" stroke-width="1.8"/>
<circle cx="2418.7" cy="764.7" r="1.3" fill="#000"/>
<circle cx="2419" cy="767.9" r="1.3" fill="#000"/>
<line x1="2346.3" y1="636.5" x2="2346.3" y2="650" stroke="#000" stroke-width="2"/>
<rect x="2239.8" y="663" width="75.2" height="21.3" fill="none" stroke="#000" stroke-width="2"/>
<ellipse cx="2261.8" cy="673.9" rx="9.5" ry="7.3" fill="none" stroke="#000" stroke-width="2.2"/>
<circle cx="2261.8" cy="673.9" r="3.6" fill="none" stroke="#000" stroke-width="1.4"/>
<circle cx="2261.8" cy="673.9" r="1.2" fill="#000"/>
<line x1="2261.8" y1="678.9" x2="2261.8" y2="683.9" stroke="#000" stroke-width="1.6"/>
<ellipse cx="2294.9" cy="673.9" rx="9.5" ry="7.3" fill="none" stroke="#000" stroke-width="2.2"/>
<circle cx="2294.9" cy="673.9" r="3.6" fill="none" stroke="#000" stroke-width="1.4"/>
<circle cx="2294.9" cy="673.9" r="1.2" fill="#000"/>
<line x1="2294.9" y1="678.9" x2="2294.9" y2="683.9" stroke="#000" stroke-width="1.6"/>
<rect x="2239.8" y="858.7" width="85.4" height="23" fill="none" stroke="#000" stroke-width="2"/>
<ellipse cx="2261.8" cy="870.5" rx="9.5" ry="7.3" fill="none" stroke="#000" stroke-width="2.2"/>
<circle cx="2261.8" cy="870.5" r="3.6" fill="none" stroke="#000" stroke-width="1.4"/>
<circle cx="2261.8" cy="870.5" r="1.2" fill="#000"/>
<line x1="2261.8" y1="875.5" x2="2261.8" y2="880.5" stroke="#000" stroke-width="1.6"/>
<ellipse cx="2294.9" cy="870.5" rx="9.5" ry="7.3" fill="none" stroke="#000" stroke-width="2.2"/>
<circle cx="2294.9" cy="870.5" r="3.6" fill="none" stroke="#000" stroke-width="1.4"/>
<circle cx="2294.9" cy="870.5" r="1.2" fill="#000"/>
<line x1="2294.9" y1="875.5" x2="2294.9" y2="880.5" stroke="#000" stroke-width="1.6"/>
<line x1="2238.4" y1="662" x2="2238.4" y2="734.8" stroke="#000" stroke-width="2"/>
<polyline points="2230.8,734.8 2243,734.8" fill="none" stroke="#000" stroke-width="2"/>
<line x1="2243.8" y1="697" x2="2243.8" y2="732" stroke="#000" stroke-width="3"/>
<path d="M2244.8,697.5 A32,32 0 0 1 2276.4,730.2" fill="none" stroke="#000" stroke-width="2"/>
<polyline points="2276.4,730.2 2315,730.2 2315,799 2276.4,799" fill="none" stroke="#000" stroke-width="2"/>
<polyline points="2276.4,734.8 2310.5,734.8 2310.5,794.4 2276.4,794.4" fill="none" stroke="#000" stroke-width="2"/>
<line x1="2276.4" y1="730.2" x2="2276.4" y2="734.8" stroke="#000" stroke-width="2"/>
<line x1="2276.4" y1="794.4" x2="2276.4" y2="799" stroke="#000" stroke-width="2"/>
<line x1="2310.5" y1="755" x2="2445.4" y2="755" stroke="#000" stroke-width="2.2"/>
<line x1="2310.5" y1="762.3" x2="2445.4" y2="762.3" stroke="#000" stroke-width="2.2"/>
<line x1="2243.8" y1="797" x2="2243.8" y2="833" stroke="#000" stroke-width="3"/>
<path d="M2276.4,799 A32,32 0 0 1 2244.8,832.5" fill="none" stroke="#000" stroke-width="2"/>
<line x1="2238.4" y1="795.4" x2="2238.4" y2="881.7" stroke="#000" stroke-width="2"/>
<polyline points="2230.8,795.4 2243,795.4" fill="none" stroke="#000" stroke-width="2"/>
<line x1="2232" y1="802" x2="2232" y2="888" stroke="#000" stroke-width="2.4"/>
<line x1="2232" y1="881.7" x2="2453.5" y2="881.7" stroke="#000" stroke-width="2.2"/>
<line x1="2232" y1="889.4" x2="2453.5" y2="889.4" stroke="#000" stroke-width="2.8"/>
<line x1="2325.2" y1="858.7" x2="2325.2" y2="881.7" stroke="#000" stroke-width="2"/>
<path d="M2328.3,881.2 L2328.3,874.5 A6.6,5.2 0 0 1 2343.1,874.5 L2343.1,881.2 Z" fill="#000" stroke="#000" stroke-width="1"/>
<rect x="2330.8" y="877.6" width="3.2" height="3" fill="#fff" stroke="none" stroke-width="0"/>
<rect x="2337.4" y="877.6" width="3.2" height="3" fill="#fff" stroke="none" stroke-width="0"/>
<circle cx="2335.7" cy="874.7" r="1.1" fill="#fff"/>
<line x1="2346.5" y1="868.4" x2="2346.5" y2="881.7" stroke="#000" stroke-width="3" stroke-linecap="round"/>
<path d="M2349.5,881.2 L2349.5,874.5 A6.6,5.2 0 0 1 2364.3,874.5 L2364.3,881.2 Z" fill="#000" stroke="#000" stroke-width="1"/>
<rect x="2352" y="877.6" width="3.2" height="3" fill="#fff" stroke="none" stroke-width="0"/>
<rect x="2358.6" y="877.6" width="3.2" height="3" fill="#fff" stroke="none" stroke-width="0"/>
<circle cx="2356.9" cy="874.7" r="1.1" fill="#fff"/>
<line x1="2367.7" y1="868.4" x2="2367.7" y2="881.7" stroke="#000" stroke-width="3" stroke-linecap="round"/>
<path d="M2370.7,881.2 L2370.7,874.5 A6.6,5.2 0 0 1 2385.5,874.5 L2385.5,881.2 Z" fill="#000" stroke="#000" stroke-width="1"/>
<rect x="2373.2" y="877.6" width="3.2" height="3" fill="#fff" stroke="none" stroke-width="0"/>
<rect x="2379.8" y="877.6" width="3.2" height="3" fill="#fff" stroke="none" stroke-width="0"/>
<circle cx="2378.1" cy="874.7" r="1.1" fill="#fff"/>
<line x1="2388.9" y1="868.4" x2="2388.9" y2="881.7" stroke="#000" stroke-width="3" stroke-linecap="round"/>
<path d="M2391.9,881.2 L2391.9,874.5 A6.6,5.2 0 0 1 2406.7,874.5 L2406.7,881.2 Z" fill="#000" stroke="#000" stroke-width="1"/>
<rect x="2394.4" y="877.6" width="3.2" height="3" fill="#fff" stroke="none" stroke-width="0"/>
<rect x="2401" y="877.6" width="3.2" height="3" fill="#fff" stroke="none" stroke-width="0"/>
<circle cx="2399.3" cy="874.7" r="1.1" fill="#fff"/>
<line x1="2410.1" y1="868.4" x2="2410.1" y2="881.7" stroke="#000" stroke-width="3" stroke-linecap="round"/>
<path d="M2413.1,881.2 L2413.1,874.5 A6.6,5.2 0 0 1 2427.9,874.5 L2427.9,881.2 Z" fill="#000" stroke="#000" stroke-width="1"/>
<rect x="2415.6" y="877.6" width="3.2" height="3" fill="#fff" stroke="none" stroke-width="0"/>
<rect x="2422.2" y="877.6" width="3.2" height="3" fill="#fff" stroke="none" stroke-width="0"/>
<circle cx="2420.5" cy="874.7" r="1.1" fill="#fff"/>
<line x1="2431.3" y1="868.4" x2="2431.3" y2="881.7" stroke="#000" stroke-width="3" stroke-linecap="round"/>
<polygon points="2453.5,488.8 2639.5,491 2656.2,889.5 2453.5,889.5" fill="#6d6e71" stroke="#000" stroke-width="2.2"/>
<line x1="2453.5" y1="497.5" x2="2625" y2="499.5" stroke="#000" stroke-width="2.2"/>
<rect x="2458.9" y="502.4" width="156.1" height="379.2" fill="none" stroke="#000" stroke-width="2.4"/>
<line x1="2455.2" y1="499" x2="2455.2" y2="882" stroke="#000" stroke-width="1.8"/>
<line x1="2618.9" y1="500" x2="2618.9" y2="882" stroke="#000" stroke-width="1.8"/>
<line x1="2536.5" y1="502.4" x2="2536.5" y2="881.6" stroke="#000" stroke-width="2.4"/>
<clipPath id="rc"><rect x="2458.9" y="502.4" width="156.1" height="379.2"/></clipPath>
<g clip-path="url(#rc)">
<polyline points="2458.9,503.9 2536.5,526.8 2615,503.9" fill="none" stroke="#000" stroke-width="2.3"/>
<line x1="2458.9" y1="527.3" x2="2615" y2="527.3" stroke="#000" stroke-width="2.4"/>
<polyline points="2458.9,528.8 2536.5,549.5 2615,528.8" fill="none" stroke="#000" stroke-width="2.3"/>
<line x1="2458.9" y1="550" x2="2615" y2="550" stroke="#000" stroke-width="2.4"/>
<polyline points="2458.9,551.5 2536.5,572.1 2615,551.5" fill="none" stroke="#000" stroke-width="2.3"/>
<line x1="2458.9" y1="572.6" x2="2615" y2="572.6" stroke="#000" stroke-width="2.4"/>
<polyline points="2458.9,574.1 2536.5,594.7 2615,574.1" fill="none" stroke="#000" stroke-width="2.3"/>
<line x1="2458.9" y1="595.2" x2="2615" y2="595.2" stroke="#000" stroke-width="2.4"/>
<polyline points="2458.9,596.7 2536.5,616.9 2615,596.7" fill="none" stroke="#000" stroke-width="2.3"/>
<line x1="2458.9" y1="617.4" x2="2615" y2="617.4" stroke="#000" stroke-width="2.4"/>
<polyline points="2458.9,618.9 2536.5,639.2 2615,618.9" fill="none" stroke="#000" stroke-width="2.3"/>
<line x1="2458.9" y1="639.7" x2="2615" y2="639.7" stroke="#000" stroke-width="2.4"/>
<polyline points="2458.9,641.2 2536.5,661.5 2615,641.2" fill="none" stroke="#000" stroke-width="2.3"/>
<line x1="2458.9" y1="662" x2="2615" y2="662" stroke="#000" stroke-width="2.4"/>
<polyline points="2458.9,663.5 2536.5,684 2615,663.5" fill="none" stroke="#000" stroke-width="2.3"/>
<line x1="2458.9" y1="684.5" x2="2615" y2="684.5" stroke="#000" stroke-width="2.4"/>
<polyline points="2458.9,686 2536.5,706.4 2615,686" fill="none" stroke="#000" stroke-width="2.3"/>
<line x1="2458.9" y1="706.9" x2="2615" y2="706.9" stroke="#000" stroke-width="2.4"/>
<polyline points="2458.9,708.4 2536.5,728.7 2615,708.4" fill="none" stroke="#000" stroke-width="2.3"/>
<line x1="2458.9" y1="729.2" x2="2615" y2="729.2" stroke="#000" stroke-width="2.4"/>
<polyline points="2458.9,730.7 2536.5,751.1 2615,730.7" fill="none" stroke="#000" stroke-width="2.3"/>
<line x1="2458.9" y1="751.6" x2="2615" y2="751.6" stroke="#000" stroke-width="2.4"/>
<polyline points="2458.9,753.1 2536.5,773.4 2615,753.1" fill="none" stroke="#000" stroke-width="2.3"/>
<line x1="2458.9" y1="773.9" x2="2615" y2="773.9" stroke="#000" stroke-width="2.4"/>
<polyline points="2458.9,775.4 2536.5,795.8 2615,775.4" fill="none" stroke="#000" stroke-width="2.3"/>
<line x1="2458.9" y1="796.3" x2="2615" y2="796.3" stroke="#000" stroke-width="2.4"/>
<polyline points="2458.9,797.8 2536.5,818.1 2615,797.8" fill="none" stroke="#000" stroke-width="2.3"/>
<line x1="2458.9" y1="818.6" x2="2615" y2="818.6" stroke="#000" stroke-width="2.4"/>
<polyline points="2458.9,820.1 2536.5,840.5 2615,820.1" fill="none" stroke="#000" stroke-width="2.3"/>
<line x1="2458.9" y1="841" x2="2615" y2="841" stroke="#000" stroke-width="2.4"/>
<polyline points="2458.9,842.5 2536.5,862.8 2615,842.5" fill="none" stroke="#000" stroke-width="2.3"/>
<line x1="2458.9" y1="863.3" x2="2615" y2="863.3" stroke="#000" stroke-width="2.4"/>
<polyline points="2458.9,864.8 2536.5,885.2 2615,864.8" fill="none" stroke="#000" stroke-width="2.3"/>
</g>
<line x1="2633" y1="530" x2="2647.8" y2="889" stroke="#000" stroke-width="1.8"/>
<line x1="2638.4" y1="476" x2="2649.3" y2="700" stroke="#000" stroke-width="1.8"/>
<line x1="2453.5" y1="882" x2="2655.5" y2="882" stroke="#000" stroke-width="2"/>
<line x1="2453.5" y1="889.7" x2="2657.5" y2="889.7" stroke="#000" stroke-width="3"/>
<rect x="2653.5" y="881" width="3.7" height="9.5" fill="#000" stroke="none" stroke-width="0"/>
<rect x="1228.6" y="1024.6" width="101.7" height="301.4" fill="#798dc3" stroke="none" stroke-width="0"/>
<rect x="1229.8" y="1034" width="5.2" height="282" fill="#eef0f6" stroke="none" stroke-width="0"/>
<line x1="1228.8" y1="1024" x2="1228.8" y2="1326" stroke="#000" stroke-width="2.6"/>
<line x1="1237.7" y1="1033.8" x2="1237.7" y2="1316" stroke="#000" stroke-width="2"/>
<line x1="1247" y1="1033.8" x2="1247" y2="1316" stroke="#000" stroke-width="2"/>
<line x1="1256.8" y1="1033.8" x2="1256.8" y2="1316" stroke="#000" stroke-width="2"/>
<line x1="1265.9" y1="1033.8" x2="1265.9" y2="1316" stroke="#000" stroke-width="2"/>
<line x1="1275.2" y1="1031" x2="1275.2" y2="1319" stroke="#000" stroke-width="2"/>
<line x1="1228.6" y1="1175.7" x2="1274" y2="1175.7" stroke="#000" stroke-width="2"/>
<polygon points="1268,1173.5 1275.2,1175.7 1268,1177.5" fill="#000" stroke="none" stroke-width="0"/>
<line x1="1321.2" y1="1031" x2="1321.2" y2="1319" stroke="#000" stroke-width="2"/>
<line x1="1329.3" y1="1024.6" x2="1329.3" y2="1326" stroke="#000" stroke-width="2.6"/>
<line x1="1325.3" y1="1031" x2="1325.3" y2="1116" stroke="#000" stroke-width="2.4"/>
<line x1="1325.3" y1="1235.4" x2="1325.3" y2="1319" stroke="#000" stroke-width="2.4"/>
<line x1="1283.8" y1="1026.2" x2="1329" y2="1026.2" stroke="#000" stroke-width="1.6"/>
<line x1="1283.8" y1="1031.6" x2="1329" y2="1031.6" stroke="#000" stroke-width="1.6"/>
<line x1="1283.8" y1="1319" x2="1329" y2="1319" stroke="#000" stroke-width="1.6"/>
<line x1="1283.8" y1="1324.4" x2="1329" y2="1324.4" stroke="#000" stroke-width="1.6"/>
<line x1="1283.8" y1="1025" x2="1283.8" y2="1031.6" stroke="#000" stroke-width="1.6"/>
<line x1="1283.8" y1="1319" x2="1283.8" y2="1325.5" stroke="#000" stroke-width="1.6"/>
<line x1="1266" y1="1031.6" x2="1283.8" y2="1031.6" stroke="#000" stroke-width="1.4"/>
<line x1="1266" y1="1319" x2="1283.8" y2="1319" stroke="#000" stroke-width="1.4"/>
<line x1="1291" y1="1116" x2="1330" y2="1116" stroke="#000" stroke-width="2.8"/>
<path d="M1291.3,1116 A29.9,29.9 0 0 0 1321.2,1145.9" fill="none" stroke="#000" stroke-width="2"/>
<line x1="1291" y1="1145.8" x2="1330" y2="1145.8" stroke="#000" stroke-width="2.8"/>
<path d="M1291.3,1145.8 A29.9,29.9 0 0 0 1321.2,1175.7" fill="none" stroke="#000" stroke-width="2"/>
<line x1="1291" y1="1205.3" x2="1330" y2="1205.3" stroke="#000" stroke-width="2.8"/>
<path d="M1291.3,1205.3 A29.9,29.9 0 0 1 1321.2,1175.4" fill="none" stroke="#000" stroke-width="2"/>
<line x1="1291" y1="1235.4" x2="1330" y2="1235.4" stroke="#000" stroke-width="2.8"/>
<path d="M1291.3,1235.4 A29.9,29.9 0 0 1 1321.2,1205.5" fill="none" stroke="#000" stroke-width="2"/>
<line x1="1321.2" y1="1175.7" x2="1330" y2="1175.7" stroke="#000" stroke-width="2"/>
<rect x="1602" y="1119" width="297" height="183" fill="#798dc3" stroke="none" stroke-width="0"/>
<line x1="1899" y1="1119" x2="1899" y2="1302" stroke="#000" stroke-width="2.4"/>
<clipPath id="ec"><polygon points="1570,1080 1882.7,1080 1855.8,1160 1570,1160"/></clipPath>
<clipPath id="ec2"><polygon points="1570,1200 1863,1200 1831.7,1300 1570,1300"/></clipPath>
<g clip-path="url(#ec)">
<polyline points="1632,1098.3 1593,1098.3 1593,1149.8 1632,1149.8" fill="none" stroke="#000" stroke-width="2"/>
<line x1="1610" y1="1101.5" x2="1632" y2="1101.5" stroke="#000" stroke-width="2.6"/>
<rect x="1630" y="1095.8" width="260" height="10.8" fill="#000" stroke="none" stroke-width="0" rx="3"/>
<line x1="1610" y1="1149.3" x2="1632" y2="1149.3" stroke="#000" stroke-width="2.6"/>
<rect x="1630" y="1143.5" width="260" height="12" fill="#000" stroke="none" stroke-width="0" rx="3"/>
<line x1="1665" y1="1106.6" x2="1890" y2="1106.6" stroke="#000" stroke-width="2"/>
<line x1="1665" y1="1125" x2="1890" y2="1125" stroke="#000" stroke-width="2"/>
<line x1="1665.3" y1="1106" x2="1665.3" y2="1145" stroke="#000" stroke-width="2.2"/>
<line x1="1676.8" y1="1106" x2="1676.8" y2="1145" stroke="#000" stroke-width="2.2"/>
<line x1="1688.2" y1="1106" x2="1688.2" y2="1145" stroke="#000" stroke-width="2.2"/>
<line x1="1699.7" y1="1106" x2="1699.7" y2="1145" stroke="#000" stroke-width="2.2"/>
<line x1="1711.1" y1="1106" x2="1711.1" y2="1145" stroke="#000" stroke-width="2.2"/>
<line x1="1722.6" y1="1106" x2="1722.6" y2="1145" stroke="#000" stroke-width="2.2"/>
<line x1="1734" y1="1106" x2="1734" y2="1145" stroke="#000" stroke-width="2.2"/>
<line x1="1745.5" y1="1106" x2="1745.5" y2="1145" stroke="#000" stroke-width="2.2"/>
<line x1="1756.9" y1="1106" x2="1756.9" y2="1145" stroke="#000" stroke-width="2.2"/>
<line x1="1768.4" y1="1106" x2="1768.4" y2="1145" stroke="#000" stroke-width="2.2"/>
<line x1="1779.8" y1="1106" x2="1779.8" y2="1145" stroke="#000" stroke-width="2.2"/>
<line x1="1791.3" y1="1106" x2="1791.3" y2="1145" stroke="#000" stroke-width="2.2"/>
<line x1="1802.7" y1="1106" x2="1802.7" y2="1145" stroke="#000" stroke-width="2.2"/>
<line x1="1814.2" y1="1106" x2="1814.2" y2="1145" stroke="#000" stroke-width="2.2"/>
<line x1="1825.6" y1="1106" x2="1825.6" y2="1145" stroke="#000" stroke-width="2.2"/>
<line x1="1837.1" y1="1106" x2="1837.1" y2="1145" stroke="#000" stroke-width="2.2"/>
<line x1="1848.5" y1="1106" x2="1848.5" y2="1145" stroke="#000" stroke-width="2.2"/>
<line x1="1860" y1="1106" x2="1860" y2="1145" stroke="#000" stroke-width="2.2"/>
<line x1="1871.4" y1="1106" x2="1871.4" y2="1145" stroke="#000" stroke-width="2.2"/>
<line x1="1882.9" y1="1106" x2="1882.9" y2="1145" stroke="#000" stroke-width="2.2"/>
</g>
<g clip-path="url(#ec2)">
<polyline points="1650,1226.6 1613,1226.6 1613,1277.7 1650,1277.7" fill="none" stroke="#000" stroke-width="2"/>
<line x1="1629.5" y1="1228.8" x2="1650" y2="1228.8" stroke="#000" stroke-width="2.6"/>
<rect x="1648.5" y="1221.5" width="241.5" height="12" fill="#000" stroke="none" stroke-width="0" rx="3"/>
<line x1="1629.5" y1="1274.6" x2="1650" y2="1274.6" stroke="#000" stroke-width="2.6"/>
<rect x="1648.5" y="1269.3" width="241.5" height="11.9" fill="#000" stroke="none" stroke-width="0" rx="3"/>
<line x1="1684" y1="1251.5" x2="1890" y2="1251.5" stroke="#000" stroke-width="2"/>
<line x1="1684.2" y1="1232" x2="1684.2" y2="1270" stroke="#000" stroke-width="2.2"/>
<line x1="1695.7" y1="1232" x2="1695.7" y2="1270" stroke="#000" stroke-width="2.2"/>
<line x1="1707.1" y1="1232" x2="1707.1" y2="1270" stroke="#000" stroke-width="2.2"/>
<line x1="1718.6" y1="1232" x2="1718.6" y2="1270" stroke="#000" stroke-width="2.2"/>
<line x1="1730" y1="1232" x2="1730" y2="1270" stroke="#000" stroke-width="2.2"/>
<line x1="1741.5" y1="1232" x2="1741.5" y2="1270" stroke="#000" stroke-width="2.2"/>
<line x1="1752.9" y1="1232" x2="1752.9" y2="1270" stroke="#000" stroke-width="2.2"/>
<line x1="1764.4" y1="1232" x2="1764.4" y2="1270" stroke="#000" stroke-width="2.2"/>
<line x1="1775.8" y1="1232" x2="1775.8" y2="1270" stroke="#000" stroke-width="2.2"/>
<line x1="1787.3" y1="1232" x2="1787.3" y2="1270" stroke="#000" stroke-width="2.2"/>
<line x1="1798.7" y1="1232" x2="1798.7" y2="1270" stroke="#000" stroke-width="2.2"/>
<line x1="1810.2" y1="1232" x2="1810.2" y2="1270" stroke="#000" stroke-width="2.2"/>
<line x1="1821.6" y1="1232" x2="1821.6" y2="1270" stroke="#000" stroke-width="2.2"/>
<line x1="1833.1" y1="1232" x2="1833.1" y2="1270" stroke="#000" stroke-width="2.2"/>
<line x1="1844.5" y1="1232" x2="1844.5" y2="1270" stroke="#000" stroke-width="2.2"/>
<line x1="1856" y1="1232" x2="1856" y2="1270" stroke="#000" stroke-width="2.2"/>
<line x1="1867.4" y1="1232" x2="1867.4" y2="1270" stroke="#000" stroke-width="2.2"/>
<line x1="1878.9" y1="1232" x2="1878.9" y2="1270" stroke="#000" stroke-width="2.2"/>
</g>
<line x1="1750" y1="1103" x2="1750" y2="1119" stroke="#000" stroke-width="2"/>
<line x1="1899" y1="1102.7" x2="1827" y2="1331" stroke="#000" stroke-width="2"/>
<polygon points="1584.4,1136.5 1592,1136.5 1592,1126 1603,1146.8 1592,1168.4 1592,1158.5 1584.4,1158.5" fill="#000" stroke="#000" stroke-width="1" stroke-linejoin="round"/>
<polygon points="1584.4,1263.5 1592,1263.5 1592,1253 1603,1273.8 1592,1295.4 1592,1285.5 1584.4,1285.5" fill="#000" stroke="#000" stroke-width="1" stroke-linejoin="round"/>
<text x="1660.1" y="1200" font-size="24.6" font-weight="bold" fill="#1b1b1b" textLength="151.2" lengthAdjust="spacingAndGlyphs" stroke="#1b1b1b" stroke-width="0.7">Thang cuốn</text>
<polygon points="1601.4,1635.6 1772,1635.6 1772,1725.3 1728.3,1725.3 1728.3,1887 1601.4,1889.8" fill="#798dc3" stroke="none" stroke-width="0"/>
<polyline points="1601.4,1768 1601.4,1635.6 1772,1635.6 1772,1725.3 1728.3,1725.3" fill="none" stroke="#000" stroke-width="2.4"/>
<rect x="1609" y="1638" width="152" height="80" fill="none" stroke="#000" stroke-width="1.8"/>
<line x1="1601.4" y1="1718.9" x2="1761" y2="1718.9" stroke="#000" stroke-width="2.2"/>
<line x1="1601.4" y1="1726.5" x2="1728.3" y2="1726.5" stroke="#000" stroke-width="2.2"/>
<line x1="1679.3" y1="1644" x2="1679.3" y2="1718" stroke="#000" stroke-width="2"/>
<line x1="1687" y1="1644" x2="1687" y2="1718" stroke="#000" stroke-width="2"/>
<rect x="1614" y="1648.5" width="54.9" height="59.9" fill="none" stroke="#000" stroke-width="3"/>
<line x1="1614" y1="1648.5" x2="1668.9" y2="1708.4" stroke="#000" stroke-width="1.8"/>
<line x1="1614" y1="1708.4" x2="1668.9" y2="1648.5" stroke="#000" stroke-width="1.8"/>
<rect x="1617.5" y="1643.5" width="48.4" height="7" fill="#000" stroke="none" stroke-width="0"/>
<line x1="1609" y1="1680.8" x2="1673.6" y2="1680.8" stroke="#000" stroke-width="1.8"/>
<rect x="1620.5" y="1710.5" width="41.9" height="5.5" fill="none" stroke="#000" stroke-width="2"/>
<line x1="1623" y1="1713.2" x2="1659.9" y2="1713.2" stroke="#000" stroke-width="2.4"/>
<line x1="1624" y1="1637" x2="1626.5" y2="1646" stroke="#000" stroke-width="2"/>
<line x1="1658.9" y1="1637" x2="1656.4" y2="1646" stroke="#000" stroke-width="2"/>
<rect x="1618" y="1650.5" width="9" height="3.5" fill="none" stroke="#000" stroke-width="1.4"/>
<rect x="1655.9" y="1650.5" width="9" height="3.5" fill="none" stroke="#000" stroke-width="1.4"/>
<rect x="1699.9" y="1648.5" width="54.1" height="59.9" fill="none" stroke="#000" stroke-width="3"/>
<line x1="1699.9" y1="1648.5" x2="1754" y2="1708.4" stroke="#000" stroke-width="1.8"/>
<line x1="1699.9" y1="1708.4" x2="1754" y2="1648.5" stroke="#000" stroke-width="1.8"/>
<rect x="1703.4" y="1643.5" width="47.6" height="7" fill="#000" stroke="none" stroke-width="0"/>
<line x1="1693.6" y1="1680.8" x2="1760" y2="1680.8" stroke="#000" stroke-width="1.8"/>
<rect x="1706.4" y="1710.5" width="41.1" height="5.5" fill="none" stroke="#000" stroke-width="2"/>
<line x1="1708.9" y1="1713.2" x2="1745" y2="1713.2" stroke="#000" stroke-width="2.4"/>
<line x1="1709.9" y1="1637" x2="1712.4" y2="1646" stroke="#000" stroke-width="2"/>
<line x1="1744" y1="1637" x2="1741.5" y2="1646" stroke="#000" stroke-width="2"/>
<rect x="1703.9" y="1650.5" width="9" height="3.5" fill="none" stroke="#000" stroke-width="1.4"/>
<rect x="1741" y="1650.5" width="9" height="3.5" fill="none" stroke="#000" stroke-width="1.4"/>
<circle cx="1673.6" cy="1680.8" r="1.8" fill="#000"/>
<circle cx="1694" cy="1680.8" r="1.8" fill="#000"/>
<circle cx="1759.5" cy="1680.8" r="1.8" fill="#000"/>
<line x1="1719.3" y1="1726.5" x2="1719.3" y2="1886" stroke="#000" stroke-width="2"/>
<line x1="1728.3" y1="1719" x2="1728.3" y2="1892" stroke="#000" stroke-width="2.4"/>
<line x1="1604.2" y1="1767" x2="1604.2" y2="1860" stroke="#000" stroke-width="2"/>
<line x1="1610.9" y1="1767" x2="1610.9" y2="1860" stroke="#000" stroke-width="2"/>
<line x1="1655.6" y1="1727" x2="1655.6" y2="1772" stroke="#000" stroke-width="1.6"/>
<line x1="1662.8" y1="1727" x2="1662.8" y2="1772" stroke="#000" stroke-width="1.6"/>
<line x1="1666.4" y1="1727" x2="1666.4" y2="1772" stroke="#000" stroke-width="1.6"/>
<line x1="1673.6" y1="1727" x2="1673.6" y2="1772" stroke="#000" stroke-width="1.6"/>
<line x1="1655.6" y1="1839.6" x2="1655.6" y2="1886" stroke="#000" stroke-width="1.6"/>
<line x1="1662.8" y1="1839.6" x2="1662.8" y2="1886" stroke="#000" stroke-width="1.6"/>
<line x1="1666.4" y1="1839.6" x2="1666.4" y2="1886" stroke="#000" stroke-width="1.6"/>
<line x1="1673.6" y1="1839.6" x2="1673.6" y2="1886" stroke="#000" stroke-width="1.6"/>
<rect x="1656.5" y="1772" width="17.1" height="67.6" fill="none" stroke="#000" stroke-width="2"/>
<line x1="1656.5" y1="1772" x2="1673.6" y2="1839.6" stroke="#000" stroke-width="1.8"/>
<line x1="1656.5" y1="1839.6" x2="1673.6" y2="1772" stroke="#000" stroke-width="1.8"/>
<line x1="1610.9" y1="1773" x2="1655.6" y2="1773" stroke="#000" stroke-width="2.2"/>
<line x1="1674.6" y1="1773" x2="1718.3" y2="1773" stroke="#000" stroke-width="2.2"/>
<line x1="1610.9" y1="1782.6" x2="1655.6" y2="1782.6" stroke="#000" stroke-width="2.2"/>
<line x1="1674.6" y1="1782.6" x2="1718.3" y2="1782.6" stroke="#000" stroke-width="2.2"/>
<line x1="1610.9" y1="1792" x2="1655.6" y2="1792" stroke="#000" stroke-width="2.2"/>
<line x1="1674.6" y1="1792" x2="1718.3" y2="1792" stroke="#000" stroke-width="2.2"/>
<line x1="1610.9" y1="1801.6" x2="1655.6" y2="1801.6" stroke="#000" stroke-width="2.2"/>
<line x1="1674.6" y1="1801.6" x2="1718.3" y2="1801.6" stroke="#000" stroke-width="2.2"/>
<line x1="1610.9" y1="1811" x2="1655.6" y2="1811" stroke="#000" stroke-width="2.2"/>
<line x1="1674.6" y1="1811" x2="1718.3" y2="1811" stroke="#000" stroke-width="2.2"/>
<line x1="1610.9" y1="1820.6" x2="1655.6" y2="1820.6" stroke="#000" stroke-width="2.2"/>
<line x1="1674.6" y1="1820.6" x2="1718.3" y2="1820.6" stroke="#000" stroke-width="2.2"/>
<line x1="1610.9" y1="1830" x2="1655.6" y2="1830" stroke="#000" stroke-width="2.2"/>
<line x1="1674.6" y1="1830" x2="1718.3" y2="1830" stroke="#000" stroke-width="2.2"/>
<line x1="1610.9" y1="1839.6" x2="1655.6" y2="1839.6" stroke="#000" stroke-width="2.2"/>
<line x1="1674.6" y1="1839.6" x2="1718.3" y2="1839.6" stroke="#000" stroke-width="2.2"/>
<line x1="1610.9" y1="1885.5" x2="1719.3" y2="1884" stroke="#000" stroke-width="2"/>
<line x1="1577.6" y1="1741.7" x2="1601.4" y2="1767.4" stroke="#000" stroke-width="4"/>
<path d="M1577.6,1741.7 Q1584,1733.5 1602,1733" fill="none" stroke="#000" stroke-width="2"/>
<rect x="1602.2" y="1728.5" width="8.3" height="5.5" fill="none" stroke="#000" stroke-width="1.6"/>
<rect x="1602.2" y="1765.5" width="8.3" height="4.5" fill="#000" stroke="#000" stroke-width="1.2"/>
<rect x="1228" y="506" width="38" height="17" fill="#000" stroke="none" stroke-width="0" rx="2"/>
<rect x="1228" y="721" width="38" height="16" fill="#000" stroke="none" stroke-width="0" rx="2"/>
<rect x="1227.6" y="1018.7" width="38.9" height="15.7" fill="#000" stroke="none" stroke-width="0" rx="2"/>
<rect x="1227.6" y="1315.6" width="38.9" height="16.7" fill="#000" stroke="none" stroke-width="0" rx="2"/>
<rect x="1228" y="1551" width="38" height="17.5" fill="#000" stroke="none" stroke-width="0" rx="2"/>
<rect x="1227" y="1868.5" width="17" height="39.2" fill="#000" stroke="none" stroke-width="0" rx="2"/>
<rect x="1600" y="490.5" width="17.6" height="39.5" fill="#000" stroke="none" stroke-width="0" rx="2"/>
<rect x="1600" y="689" width="17.6" height="40" fill="#000" stroke="none" stroke-width="0" rx="2"/>
<rect x="1600" y="1024.6" width="17.6" height="39.9" fill="#000" stroke="none" stroke-width="0" rx="2"/>
<rect x="1600" y="1284" width="17.6" height="40" fill="#000" stroke="none" stroke-width="0" rx="2"/>
<rect x="1600" y="1511" width="17.6" height="40" fill="#000" stroke="none" stroke-width="0" rx="2"/>
<rect x="1600.4" y="1859.6" width="17.2" height="38.4" fill="#000" stroke="none" stroke-width="0" rx="2"/>
<rect x="2034" y="1024.6" width="18" height="39.9" fill="#000" stroke="none" stroke-width="0" rx="2"/>
<rect x="2034" y="1284.4" width="18" height="39.6" fill="#000" stroke="none" stroke-width="0" rx="2"/>
<rect x="2034" y="1511" width="18" height="40" fill="#000" stroke="none" stroke-width="0" rx="2"/>
<rect x="2034" y="1848.4" width="18" height="39.6" fill="#000" stroke="none" stroke-width="0" rx="2"/>
<rect x="2338.5" y="1054.5" width="17.5" height="38.2" fill="#000" stroke="none" stroke-width="0" rx="2"/>
<rect x="2444" y="1284" width="17.5" height="40" fill="#000" stroke="none" stroke-width="0" rx="2"/>
<rect x="2441" y="1511" width="17" height="40" fill="#000" stroke="none" stroke-width="0" rx="2"/>
<rect x="2438" y="1838.5" width="17.5" height="39.5" fill="#000" stroke="none" stroke-width="0" rx="2"/>
<rect x="2645" y="1054.5" width="17" height="39.5" fill="#000" stroke="none" stroke-width="0" rx="2"/>
<rect x="2632" y="689" width="17" height="40" fill="#000" stroke="none" stroke-width="0" rx="2"/>
<polygon points="2623.3,490.4 2639.3,490.6 2641,530.3 2623.3,530.3" fill="#000" stroke="#000" stroke-width="1.5" stroke-linejoin="round"/>
<text x="1323.4" y="565.4" font-size="46.9" font-weight="bold" fill="#fff" textLength="33.3" lengthAdjust="spacingAndGlyphs">6</text>
<text x="1512.2" y="546.1" font-size="51.7" font-weight="bold" fill="#fff" textLength="31.5" lengthAdjust="spacingAndGlyphs">5</text>
<text x="1696.5" y="542.8" font-size="50.4" font-weight="bold" fill="#fff" textLength="31.1" lengthAdjust="spacingAndGlyphs">4</text>
<text x="1807.3" y="624.2" font-size="50.2" font-weight="bold" fill="#fff" textLength="31.6" lengthAdjust="spacingAndGlyphs">3</text>
<text x="1807.6" y="755.4" font-size="50.2" font-weight="bold" fill="#fff" textLength="32" lengthAdjust="spacingAndGlyphs">2</text>
<text x="1584.5" y="776.7" font-size="47.2" font-weight="bold" fill="#fff" textLength="18.1" lengthAdjust="spacingAndGlyphs" stroke="#fff" stroke-width="2.2" stroke-linejoin="miter">1</text>
<text x="1323" y="780.3" font-size="49.2" font-weight="bold" fill="#fff" textLength="33.4" lengthAdjust="spacingAndGlyphs">7</text>
<text x="1317.7" y="938.1" font-size="50.1" font-weight="bold" fill="#fff" textLength="31.8" lengthAdjust="spacingAndGlyphs">8</text>
<text x="1671.1" y="924.8" font-size="51.1" font-weight="bold" fill="#fff" textLength="62.9" lengthAdjust="spacingAndGlyphs">32</text>
<text x="1842.8" y="924.8" font-size="51.1" font-weight="bold" fill="#fff" textLength="53.6" lengthAdjust="spacingAndGlyphs">31</text>
<text x="1496.5" y="952.3" font-size="31.1" font-weight="bold" fill="#fff" textLength="41.1" lengthAdjust="spacingAndGlyphs">33</text>
<text x="1659.2" y="1091.5" font-size="50.2" font-weight="bold" fill="#fff" textLength="61.2" lengthAdjust="spacingAndGlyphs">43</text>
<text x="1814.8" y="1091.5" font-size="50.2" font-weight="bold" fill="#fff" textLength="60.6" lengthAdjust="spacingAndGlyphs">44</text>
<text x="1659.2" y="1393.2" font-size="50.2" font-weight="bold" fill="#fff" textLength="61.5" lengthAdjust="spacingAndGlyphs">42</text>
<text x="1818.8" y="1393.2" font-size="50.2" font-weight="bold" fill="#fff" textLength="60.5" lengthAdjust="spacingAndGlyphs">45</text>
<text x="2146.2" y="859.1" font-size="48.8" font-weight="bold" fill="#fff" textLength="62.4" lengthAdjust="spacingAndGlyphs">30</text>
<text x="2145.5" y="934.8" font-size="50.4" font-weight="bold" fill="#fff" textLength="62.9" lengthAdjust="spacingAndGlyphs">29</text>
<text x="2383.1" y="938.8" font-size="48.9" font-weight="bold" fill="#fff" textLength="61.7" lengthAdjust="spacingAndGlyphs">28</text>
<text x="2577.4" y="1034.4" font-size="48.8" font-weight="bold" fill="#fff" textLength="64.4" lengthAdjust="spacingAndGlyphs">27</text>
<text x="2577.4" y="1159.8" font-size="48.9" font-weight="bold" fill="#fff" textLength="64" lengthAdjust="spacingAndGlyphs">26</text>
<text x="2111.8" y="1100.1" font-size="49.4" font-weight="bold" fill="#fff" textLength="61.8" lengthAdjust="spacingAndGlyphs">48</text>
<text x="1978.8" y="1203.8" font-size="49.2" font-weight="bold" fill="#fff" textLength="63.2" lengthAdjust="spacingAndGlyphs">47</text>
<text x="2111.8" y="1203.8" font-size="49.2" font-weight="bold" fill="#fff" textLength="62.1" lengthAdjust="spacingAndGlyphs">49</text>
<text x="1975.6" y="1392.2" font-size="49.8" font-weight="bold" fill="#fff" textLength="62" lengthAdjust="spacingAndGlyphs">46</text>
<text x="2110.7" y="1392.2" font-size="49.8" font-weight="bold" fill="#fff" textLength="63.5" lengthAdjust="spacingAndGlyphs">50</text>
<text x="2323.5" y="1062.6" font-size="32.5" font-weight="bold" fill="#fff" textLength="37.5" lengthAdjust="spacingAndGlyphs">51</text>
<text x="2323.4" y="1140.7" font-size="32.5" font-weight="bold" fill="#fff" textLength="41.7" lengthAdjust="spacingAndGlyphs">52</text>
<text x="2342.9" y="1298.5" font-size="31.2" font-weight="bold" fill="#fff" textLength="40.9" lengthAdjust="spacingAndGlyphs">25</text>
<text x="2342.9" y="1370.6" font-size="32.1" font-weight="bold" fill="#fff" textLength="40" lengthAdjust="spacingAndGlyphs">24</text>
<text x="2342.9" y="1443.8" font-size="32.4" font-weight="bold" fill="#fff" textLength="41.2" lengthAdjust="spacingAndGlyphs">23</text>
<text x="2342.9" y="1506.4" font-size="32.5" font-weight="bold" fill="#fff" textLength="41.4" lengthAdjust="spacingAndGlyphs">22</text>
<text x="2343.1" y="1579.1" font-size="32.5" font-weight="bold" fill="#fff" textLength="36.3" lengthAdjust="spacingAndGlyphs">21</text>
<text x="2342.9" y="1648.2" font-size="32.5" font-weight="bold" fill="#fff" textLength="41.4" lengthAdjust="spacingAndGlyphs">20</text>
<text x="2343.9" y="1736.3" font-size="32.5" font-weight="bold" fill="#fff" textLength="40.1" lengthAdjust="spacingAndGlyphs">19</text>
<text x="2278.6" y="1828.3" font-size="48.8" font-weight="bold" fill="#fff" textLength="60" lengthAdjust="spacingAndGlyphs">18</text>
<text x="2043.9" y="1828.3" font-size="32.1" font-weight="bold" fill="#fff" textLength="40.4" lengthAdjust="spacingAndGlyphs">17</text>
<text x="1951.9" y="1828.3" font-size="32.1" font-weight="bold" fill="#fff" textLength="40.9" lengthAdjust="spacingAndGlyphs">16</text>
<text x="1866.1" y="1829.1" font-size="32.9" font-weight="bold" fill="#fff" textLength="41" lengthAdjust="spacingAndGlyphs">15</text>
<text x="1772.6" y="1829.1" font-size="32.9" font-weight="bold" fill="#fff" textLength="39.7" lengthAdjust="spacingAndGlyphs">14</text>
<text x="1951.9" y="1522.7" font-size="50.2" font-weight="bold" fill="#fff" textLength="62.5" lengthAdjust="spacingAndGlyphs">39</text>
<text x="2073.7" y="1522.7" font-size="50.2" font-weight="bold" fill="#fff" textLength="63" lengthAdjust="spacingAndGlyphs">38</text>
<text x="2073.7" y="1605.8" font-size="50.4" font-weight="bold" fill="#fff" textLength="63.8" lengthAdjust="spacingAndGlyphs">37</text>
<text x="1898" y="1605.8" font-size="50.1" font-weight="bold" fill="#fff" textLength="62.6" lengthAdjust="spacingAndGlyphs">36</text>
<text x="1307.9" y="1439.7" font-size="49.8" font-weight="bold" fill="#fff" textLength="32" lengthAdjust="spacingAndGlyphs">9</text>
<text x="1308.6" y="1579.3" font-size="50.2" font-weight="bold" fill="#fff" textLength="60.8" lengthAdjust="spacingAndGlyphs">10</text>
<text x="1308.9" y="1820.1" font-size="50.2" font-weight="bold" fill="#fff" textLength="52" lengthAdjust="spacingAndGlyphs">11</text>
<text x="1460.2" y="1816.8" font-size="32.5" font-weight="bold" fill="#fff" textLength="40.3" lengthAdjust="spacingAndGlyphs">12</text>
<text x="1555.5" y="1816.8" font-size="32.5" font-weight="bold" fill="#fff" textLength="41.2" lengthAdjust="spacingAndGlyphs">13</text>
<text x="1495.2" y="1429.4" font-size="32.8" font-weight="bold" fill="#fff" textLength="40.8" lengthAdjust="spacingAndGlyphs">34</text>
<text x="1496.5" y="1590.8" font-size="32.4" font-weight="bold" fill="#fff" textLength="40.8" lengthAdjust="spacingAndGlyphs">35</text>
<text x="1659.3" y="1522.8" font-size="50.4" font-weight="bold" fill="#fff" textLength="53.8" lengthAdjust="spacingAndGlyphs">41</text>
<text x="1814.8" y="1522.8" font-size="50.4" font-weight="bold" fill="#fff" textLength="62.6" lengthAdjust="spacingAndGlyphs">40</text>
<rect x="2682" y="1381.8" width="189.6" height="65.6" fill="#62a6ac" stroke="none" stroke-width="0"/>
<text x="2895.8" y="1420" font-size="34" font-weight="bold" fill="#000" textLength="308.3" lengthAdjust="spacingAndGlyphs">Nước hoa, Quà tặng</text>
<rect x="2682" y="1468.1" width="189.6" height="65.6" fill="#85ae9b" stroke="none" stroke-width="0"/>
<text x="2895.7" y="1507.4" font-size="34" font-weight="bold" fill="#000" textLength="150.5" lengthAdjust="spacingAndGlyphs">Mỹ phẩm</text>
<rect x="2682" y="1554.3" width="189.6" height="65.6" fill="#c9c8aa" stroke="none" stroke-width="0"/>
<text x="2897.6" y="1597" font-size="34" font-weight="bold" fill="#000" textLength="147.3" lengthAdjust="spacingAndGlyphs">Trang sức</text>
<rect x="2682" y="1640.6" width="189.6" height="65.6" fill="#f9cdb0" stroke="none" stroke-width="0"/>
<text x="2896.7" y="1682.7" font-size="34" font-weight="bold" fill="#000" textLength="272.2" lengthAdjust="spacingAndGlyphs">Giày dép, túi xách</text>
<rect x="2682" y="1726.9" width="189.6" height="65.6" fill="#fc9e9b" stroke="none" stroke-width="0"/>
<text x="2897.8" y="1774" font-size="34" font-weight="bold" fill="#000" textLength="320.9" lengthAdjust="spacingAndGlyphs">Đồng hồ và phụ kiện</text>
<rect x="2682" y="1813.1" width="189.6" height="65.6" fill="#fffadf" stroke="none" stroke-width="0"/>
<text x="2895.7" y="1857" font-size="34" font-weight="bold" fill="#000" textLength="163.5" lengthAdjust="spacingAndGlyphs">Hành lang</text>
<rect x="2682" y="1899.4" width="189.6" height="65.6" fill="#798dc3" stroke="none" stroke-width="0"/>
<text x="2897.6" y="1923" font-size="34" font-weight="bold" fill="#000" textLength="380.1" lengthAdjust="spacingAndGlyphs">Thang máy / Thang cuốn</text>
<text x="2895.8" y="1963" font-size="34" font-weight="bold" fill="#000" textLength="227.1" lengthAdjust="spacingAndGlyphs">Lối thoát hiểm</text>
<text x="2975.6" y="598.5" font-size="41" font-weight="normal" fill="#000" textLength="215" lengthAdjust="spacingAndGlyphs" stroke="#000" stroke-width="1">View sông</text>
<polygon points="3049.8,654.8 3078.5,628.9 3107,654.8" fill="#04466e" stroke="none" stroke-width="0"/>
<text x="3134.5" y="719.8" font-size="47.5" font-weight="bold" fill="#ff4466" textLength="35.8" lengthAdjust="spacingAndGlyphs">B</text>
<circle cx="3080" cy="797.3" r="72.1" fill="none" stroke="#345a7e" stroke-width="8.7"/>
<line x1="3027.4" y1="754.2" x2="3131" y2="841.4" stroke="#345a7e" stroke-width="3.8"/>
<line x1="3080" y1="797.3" x2="3035.6" y2="849.4" stroke="#345a7e" stroke-width="3.8"/>
<line x1="3080" y1="797.3" x2="3122.8" y2="745.5" stroke="#ff4466" stroke-width="12.5"/>
</svg>
</body></html>
